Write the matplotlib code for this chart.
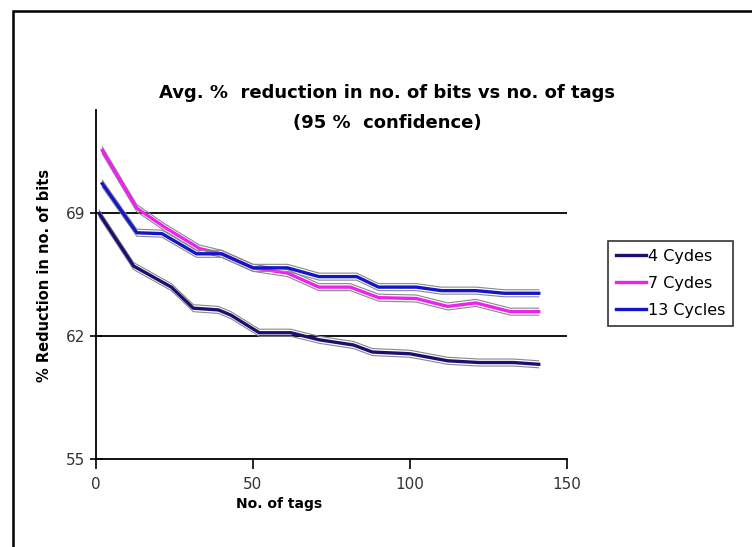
import matplotlib.pyplot as plt
from matplotlib.patches import Rectangle

# values
tags_4 = [1, 12, 19, 24, 31, 39, 43, 52, 62, 71, 82, 88, 100, 112, 122, 133, 141]
red_4 = [69.0, 66.0, 65.3, 64.8, 63.6, 63.5, 63.2, 62.2, 62.2, 61.8, 61.5, 61.1, 61.0, 60.6, 60.5, 60.5, 60.4]

tags_7 = [2, 13, 22, 33, 40, 50, 61, 71, 81, 90, 102, 112, 121, 132, 141]
red_7 = [72.6, 69.3, 68.2, 67.0, 66.7, 65.9, 65.6, 64.8, 64.8, 64.2, 64.15, 63.7, 63.9, 63.4, 63.4]

tags_13 = [2, 13, 21, 32, 40, 50, 61, 71, 83, 90, 102, 110, 121, 130, 141]
red_13 = [70.7, 67.9, 67.85, 66.7, 66.7, 65.9, 65.9, 65.4, 65.4, 64.8, 64.8, 64.6, 64.6, 64.45, 64.45]

ci_half = 0.2  # 95% confidence band half-width (approx.)

labels = ['4 Cydes', '7 Cydes', '13 Cycles']
colors = ['#1a1070', '#ee22ee', '#1515c8']

plt.rcParams['font.family'] = ['DejaVu Sans']

fig = plt.figure(figsize=(7.52, 5.47), dpi=100)
ax = fig.add_axes([96 / 752, 1 - 459 / 547, 471 / 752, 349 / 547])

series = [(tags_4, red_4), (tags_7, red_7), (tags_13, red_13)]
for (x, y), lab, c in zip(series, labels, colors):
    ax.plot(x, [v + ci_half for v in y], color='#888888', lw=0.8)
    ax.plot(x, [v - ci_half for v in y], color='#888888', lw=0.8)
    ax.plot(x, y, color=c, lw=2.4, label=lab)

ax.set_xlim(0, 150)
ax.set_ylim(55, 74.9)
ax.set_xticks([0, 50, 100, 150])
ax.set_yticks([55, 62, 69])
for g in [62, 69]:
    ax.axhline(g, color='black', lw=1.3, zorder=0)

ax.spines['top'].set_visible(False)
ax.spines['right'].set_visible(False)
ax.spines['left'].set_linewidth(1.3)
ax.spines['bottom'].set_linewidth(1.3)
ax.tick_params(axis='y', direction='inout', length=9, width=1.2, labelsize=11, colors='black', labelcolor='#333333', pad=3)
ax.tick_params(axis='x', direction='out', length=7, width=1.2, labelsize=11, colors='black', labelcolor='#333333', pad=6)

fig.text(387 / 752, 1 - 93 / 547, 'Avg. %  reduction in no. of bits vs no. of tags',
         ha='center', va='center', fontsize=13, fontweight='bold')
fig.text(387 / 752, 1 - 123 / 547, '(95 %  confidence)',
         ha='center', va='center', fontsize=13, fontweight='bold')
fig.text(279 / 752, 1 - 504 / 547, 'No. of tags', ha='center', va='center',
         fontsize=10, fontweight='bold')
fig.text(45 / 752, 1 - 275 / 547, '% Reduction in no. of bits', ha='center', va='center',
         rotation=90, fontsize=10.5, fontweight='bold')

leg = fig.legend(loc='upper left', bbox_to_anchor=(608 / 752, 1 - 241 / 547),
                 frameon=True, fancybox=False, edgecolor='black', fontsize=11.5,
                 handlelength=1.9, handletextpad=0.1, borderpad=0.5, labelspacing=0.75,
                 borderaxespad=0)
leg.get_frame().set_linewidth(1.2)

fig.patches.append(Rectangle((13 / 752, -0.1), 1.1, 1 - 11 / 547 + 0.1, transform=fig.transFigure,
                             fill=False, edgecolor='black', lw=1.8))

fig.savefig('out.png', dpi=100)
